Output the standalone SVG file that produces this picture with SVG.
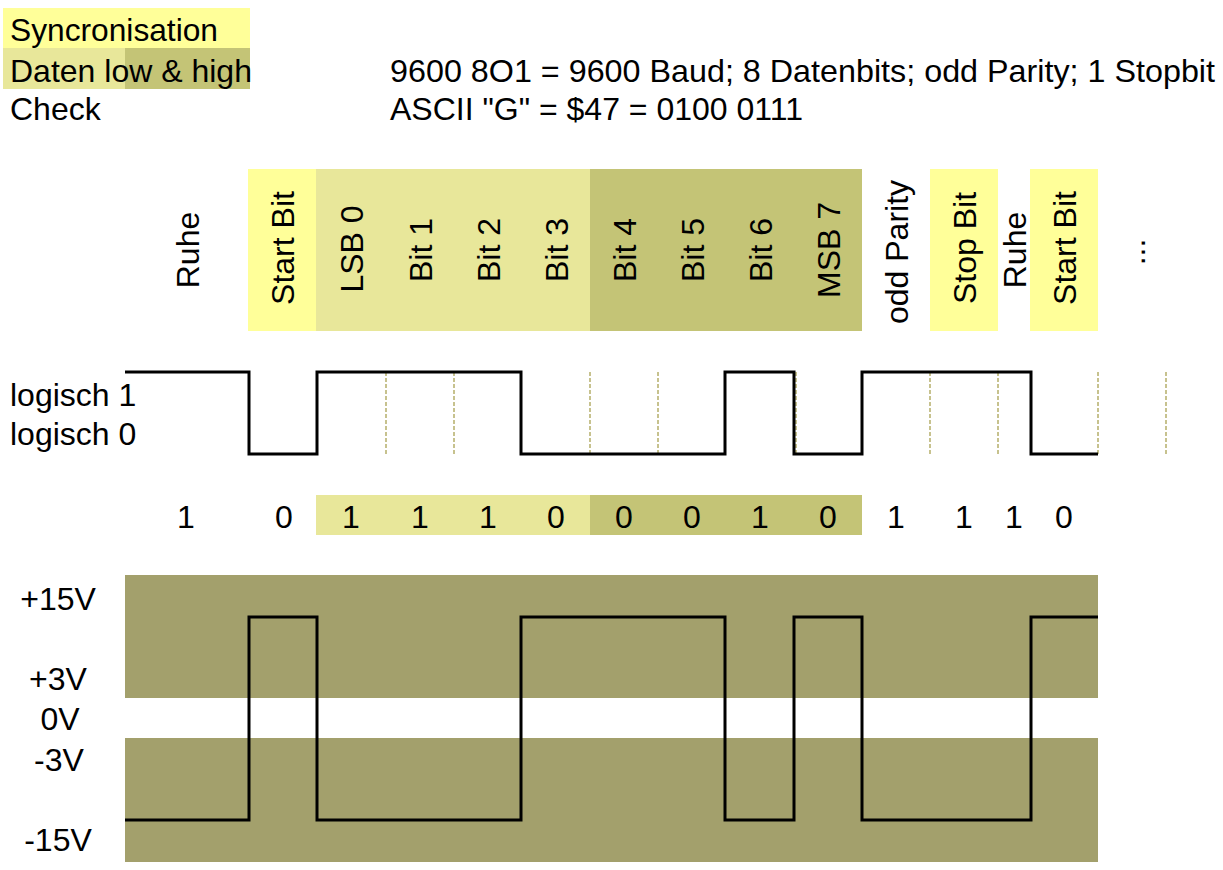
<svg xmlns="http://www.w3.org/2000/svg" width="1223" height="870" viewBox="0 0 1223 870">
<style>
text{font-family:"Liberation Sans",Arial,sans-serif;font-size:32px;fill:#000}
.m{text-anchor:middle}
.sync{fill:#FFFF99}
.lo{fill:#E8E79A}
.hi{fill:#C4C476}
.band{fill:#A3A06C}
.wave{fill:none;stroke:#000;stroke-width:3;stroke-linejoin:miter}
.grid{stroke:#B5AE6A;stroke-width:1.5;stroke-dasharray:4 2;fill:none}
</style>
<rect width="1223" height="870" fill="#fff"/>
<g id="legend">
<rect class="sync" x="3" y="8" width="247" height="40"/>
<rect class="lo" x="3" y="48" width="122" height="41"/>
<rect class="hi" x="125" y="48" width="125" height="41"/>
<text x="10" y="41" textLength="208" lengthAdjust="spacingAndGlyphs">Syncronisation</text>
<text x="10" y="82">Daten low &amp; high</text>
<text x="10" y="120">Check</text>
</g>
<g id="info">
<text x="390" y="82" textLength="825" lengthAdjust="spacingAndGlyphs">9600 8O1 = 9600 Baud; 8 Datenbits; odd Parity; 1 Stopbit</text>
<text x="390" y="120">ASCII "G" = $47 = 0100 0111</text>
</g>
<g id="header">
<rect class="sync" x="248" y="169" width="68" height="162"/>
<rect class="lo" x="316" y="169" width="274" height="162"/>
<rect class="hi" x="590" y="169" width="272" height="162"/>
<rect class="sync" x="930" y="169" width="68" height="162"/>
<rect class="sync" x="1030" y="169" width="68" height="162"/>
<text class="m" transform="translate(199,250) rotate(-90)">Ruhe</text>
<text class="m" transform="translate(294,248) rotate(-90)">Start Bit</text>
<text class="m" transform="translate(363,249) rotate(-90)">LSB 0</text>
<text class="m" transform="translate(432,250) rotate(-90)">Bit 1</text>
<text class="m" transform="translate(500,250) rotate(-90)">Bit 2</text>
<text class="m" transform="translate(568,250) rotate(-90)">Bit 3</text>
<text class="m" transform="translate(636,250) rotate(-90)">Bit 4</text>
<text class="m" transform="translate(704,250) rotate(-90)">Bit 5</text>
<text class="m" transform="translate(772,250) rotate(-90)">Bit 6</text>
<text class="m" transform="translate(840,250) rotate(-90)">MSB 7</text>
<text class="m" transform="translate(908,252) rotate(-90)">odd Parity</text>
<text class="m" transform="translate(976,248) rotate(-90)">Stop Bit</text>
<text class="m" transform="translate(1026,250) rotate(-90)">Ruhe</text>
<text class="m" transform="translate(1076,248) rotate(-90)">Start Bit</text>
<text class="m" transform="translate(1145,252) rotate(-90)">...</text>
</g>
<g id="logic">
<text x="10" y="406">logisch 1</text>
<text x="10" y="445">logisch 0</text>
<g class="grid">
<line x1="386" y1="372" x2="386" y2="455"/>
<line x1="454" y1="372" x2="454" y2="455"/>
<line x1="590" y1="372" x2="590" y2="455"/>
<line x1="658" y1="372" x2="658" y2="455"/>
<line x1="796" y1="372" x2="796" y2="455"/>
<line x1="930" y1="372" x2="930" y2="455"/>
<line x1="998" y1="372" x2="998" y2="455"/>
<line x1="1098" y1="372" x2="1098" y2="455"/>
<line x1="1166" y1="372" x2="1166" y2="455"/>
</g>
<path class="wave" d="M125,372 H249 V454 H317 V372 H521 V454 H725 V372 H794 V454 H862 V372 H1031 V454 H1098"/>
</g>
<g id="bits">
<rect class="lo" x="316" y="495" width="274" height="40"/>
<rect class="hi" x="590" y="495" width="272" height="40"/>
<text class="m" x="186" y="528">1</text>
<text class="m" x="284" y="528">0</text>
<text class="m" x="351" y="528">1</text>
<text class="m" x="420" y="528">1</text>
<text class="m" x="488" y="528">1</text>
<text class="m" x="556" y="528">0</text>
<text class="m" x="624" y="528">0</text>
<text class="m" x="692" y="528">0</text>
<text class="m" x="760" y="528">1</text>
<text class="m" x="828" y="528">0</text>
<text class="m" x="896" y="528">1</text>
<text class="m" x="964" y="528">1</text>
<text class="m" x="1014" y="528">1</text>
<text class="m" x="1064" y="528">0</text>
</g>
<g id="voltage">
<rect class="band" x="125" y="575" width="973" height="123"/>
<rect class="band" x="125" y="738" width="973" height="124"/>
<text class="m" x="58" y="610">+15V</text>
<text class="m" x="58" y="690">+3V</text>
<text class="m" x="60" y="730">0V</text>
<text class="m" x="59" y="771">-3V</text>
<text class="m" x="58" y="851">-15V</text>
<path class="wave" d="M125,820 H249 V617 H317 V820 H521 V617 H725 V820 H794 V617 H862 V820 H1031 V617 H1098"/>
</g>
</svg>
